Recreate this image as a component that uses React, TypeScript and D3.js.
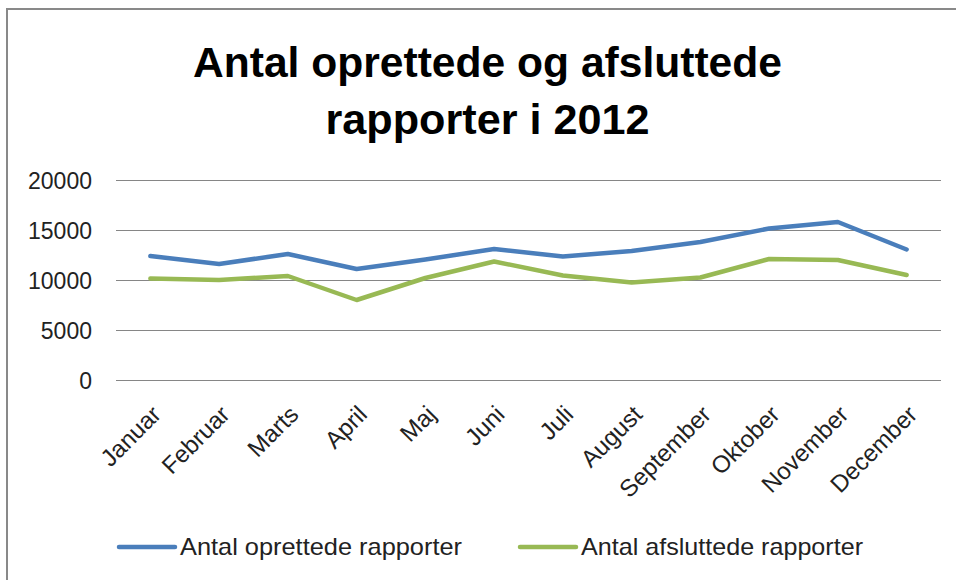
import React from "react";
import * as d3 from "d3";

const months = ["Januar","Februar","Marts","April","Maj","Juni","Juli","August","September","Oktober","November","December"];
const oprettede = [12400, 11600, 12600, 11100, 12050, 13100, 12350, 12900, 13800, 15150, 15800, 13050];
const afsluttede = [10150, 10000, 10400, 8000, 10200, 11850, 10450, 9750, 10250, 12100, 12000, 10500];
const yTicks = [0, 5000, 10000, 15000, 20000];
const titleLines = ["Antal oprettede og afsluttede", "rapporter i 2012"];
const seriesNames = ["Antal oprettede rapporter", "Antal afsluttede rapporter"];
const colors = ["#4A7EBB", "#98B954"];

const W = 956, H = 580;
const FONT = "'Liberation Sans', Arial, sans-serif";

export default function App() {
  const x = d3.scalePoint<string>().domain(months).range([116, 941]).padding(0.5);
  const y = d3.scaleLinear().domain([0, 20000]).range([380, 180]);
  const line = d3.line<number>().x((_, i) => x(months[i]) as number).y(d => y(d));
  const series = [oprettede, afsluttede];
  const legendX = [119, 520];

  return (
    <svg width={W} height={H} style={{ position: "absolute", left: 0, top: 0, background: "#fff" }} fontFamily={FONT}>
      <rect x={7} y={9} width={W + 20} height={H + 20} fill="#fff" stroke="#898989" strokeWidth={2} />
      {titleLines.map((t, i) => (
        <text key={t} x={487.5} y={i === 0 ? 77 : 134} textAnchor="middle" fontWeight="bold" fontSize={42} fill="#000"
          textLength={i === 0 ? 589 : 324} lengthAdjust="spacingAndGlyphs">{t}</text>
      ))}
      {yTicks.map(t => (
        <g key={t}>
          <line x1={116} x2={941} y1={y(t) + 0.5} y2={y(t) + 0.5} stroke="#868686" strokeWidth={1} />
          <text x={92} y={y(t) + 9} textAnchor="end" fontSize={23} fill="#222">{t}</text>
        </g>
      ))}
      {months.map(m => {
        const px = (x(m) as number) + 12, py = 416;
        return (
          <text key={m} x={px} y={py} textAnchor="end" fontSize={24} fill="#222" transform={`rotate(-45 ${px} ${py})`}>{m}</text>
        );
      })}
      {series.map((s, i) => (
        <path key={i} d={line(s) as string} fill="none" stroke={colors[i]} strokeWidth={4.5} strokeLinejoin="round" strokeLinecap="round" />
      ))}
      {seriesNames.map((n, i) => (
        <g key={n}>
          <line x1={legendX[i]} x2={legendX[i] + 56} y1={547} y2={547} stroke={colors[i]} strokeWidth={4.5} strokeLinecap="round" />
          <text x={legendX[i] + 61} y={555} fontSize={24} fill="#222" textLength={282} lengthAdjust="spacingAndGlyphs">{n}</text>
        </g>
      ))}
    </svg>
  );
}
